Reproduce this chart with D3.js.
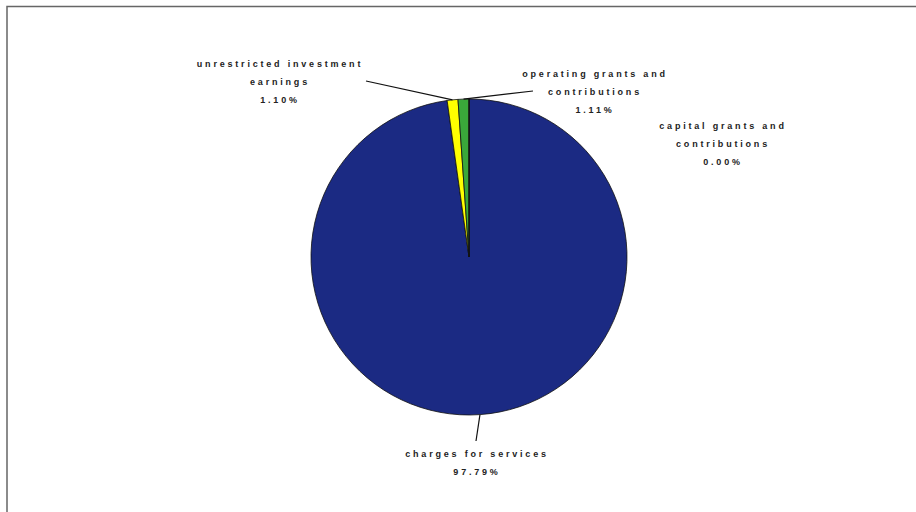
<!DOCTYPE html>
<html>
<head>
<meta charset="utf-8">
<script src="https://cdn.jsdelivr.net/npm/d3@7"></script>
<style>
  body { margin: 0; background: #fff; }
  text { font-family: "Liberation Sans", Arial, sans-serif; font-weight: bold; font-size: 9px; letter-spacing: 2.8px; fill: #222; }
</style>
</head>
<body>
<div class="container"></div>
<script>
// Data
const categories = ["charges for services", "unrestricted investment earnings", "operating grants and contributions", "capital grants and contributions"];
const shares = [97.79, 1.10, 1.11, 0.00];
const colors = ["#1b2a83", "#ffff00", "#3aa83a", "#c0c0c0"];

// Label layout (lines of text, anchor, leader end)
const labelLines = [
  ["charges for services"],
  ["unrestricted investment", "earnings"],
  ["operating grants and", "contributions"],
  ["capital grants and", "contributions"]
];
const labelPos = [[477, 457], [280, 67], [595, 77], [723, 129]];
const leaderEnd = [[476, 441], [366, 81], [533, 91], null];

const w = 916;
const h = 512;
const cx = 469, cy = 257, r = 158;

const svg = d3.select(".container")
  .append("svg")
  .attr("width", w)
  .attr("height", h);

// Frame
svg.append("path")
  .attr("d", `M7,${h} L7,6.5 L${w},6.5`)
  .attr("fill", "none")
  .attr("stroke", "#666")
  .attr("stroke-width", 1.5);

const pie = d3.pie().sort(null).value(d => d)(shares);
const arc = d3.arc().innerRadius(0).outerRadius(r);

const g = svg.append("g").attr("transform", `translate(${cx},${cy})`);

g.selectAll("path.slice")
  .data(pie)
  .enter()
  .append("path")
  .attr("class", "slice")
  .attr("d", arc)
  .attr("fill", (d, i) => colors[i])
  .attr("stroke", "#111")
  .attr("stroke-width", 0.8);

// Leader lines
pie.forEach((d, i) => {
  if (!leaderEnd[i]) return;
  const a = (d.startAngle + d.endAngle) / 2;
  const x0 = cx + Math.sin(a) * r;
  const y0 = cy - Math.cos(a) * r;
  svg.append("line")
    .attr("x1", x0).attr("y1", y0)
    .attr("x2", leaderEnd[i][0]).attr("y2", leaderEnd[i][1])
    .attr("stroke", "#111")
    .attr("stroke-width", 1.2);
});

// Labels
const fmt = d3.format(".2f");
labelLines.forEach((lines, i) => {
  const t = svg.append("text")
    .attr("x", labelPos[i][0])
    .attr("y", labelPos[i][1])
    .attr("text-anchor", "middle");
  lines.concat([fmt(shares[i]) + "%"]).forEach((s, j) => {
    t.append("tspan")
      .attr("x", labelPos[i][0])
      .attr("dy", j === 0 ? 0 : 18)
      .text(s);
  });
});
</script>
</body>
</html>
